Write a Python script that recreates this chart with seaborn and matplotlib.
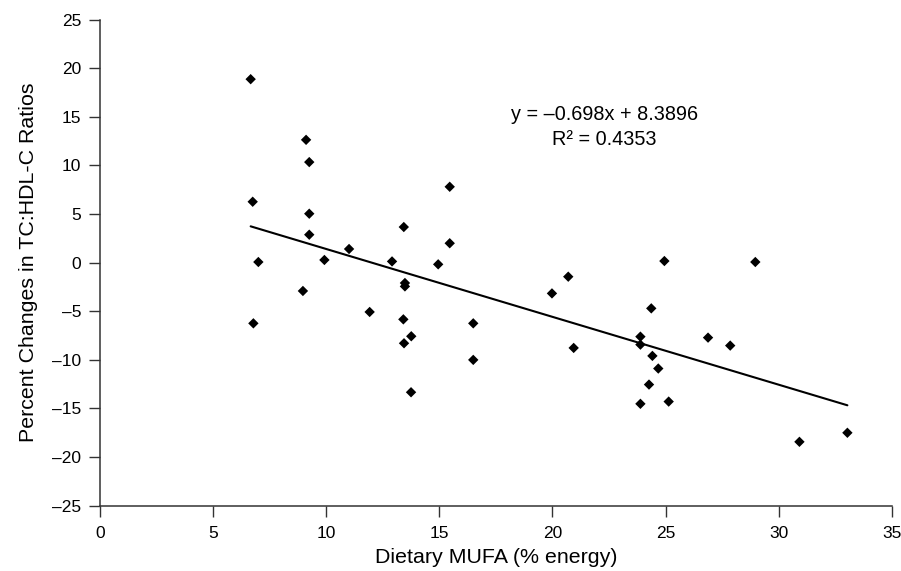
import numpy as np
import pandas as pd
import matplotlib
matplotlib.use("Agg")
import matplotlib.pyplot as plt
import seaborn as sns

# Dietary MUFA intake (% energy) and percent change in TC:HDL-C ratio per study arm
mufa = [6.66, 9.11, 9.25, 6.75, 9.25, 9.25, 7.00, 8.97, 9.92, 11.01,
        12.91, 13.43, 13.48, 13.48, 15.46, 15.46, 14.95, 6.78, 11.92, 13.41,
        13.76, 13.44, 13.75, 16.50, 16.50, 19.98, 20.70, 20.94, 23.89, 23.89,
        24.37, 24.42, 24.68, 24.27, 23.89, 25.14, 24.95, 26.88, 27.86, 28.97,
        30.92, 33.04]
tc_hdl_change = [18.88, 12.64, 10.35, 6.27, 5.04, 2.88, 0.07, -2.91, 0.28, 1.41,
                 0.13, 3.67, -2.09, -2.44, 7.81, 2.00, -0.17, -6.24, -5.07, -5.83,
                 -7.57, -8.29, -13.33, -6.24, -10.00, -3.16, -1.44, -8.77, -7.61, -8.43,
                 -4.70, -9.59, -10.89, -12.54, -14.52, -14.29, 0.17, -7.71, -8.53, 0.07,
                 -18.43, -17.50]

# Linear trend reported on the chart
slope = -0.698
intercept = 8.3896
r_squared = 0.4353

x_ticks = [0, 5, 10, 15, 20, 25, 30, 35]
y_ticks = [-25, -20, -15, -10, -5, 0, 5, 10, 15, 20, 25]
y_tick_labels = ["–25", "–20", "–15", "–10", "–5", "0", "5", "10", "15", "20", "25"]

df = pd.DataFrame({"mufa": mufa, "change": tc_hdl_change})
x_fit = np.array([min(mufa), max(mufa)])
fit = pd.DataFrame({"mufa": x_fit, "change": slope * x_fit + intercept})

sns.set_theme(style="ticks")
plt.rcParams["font.family"] = ["Liberation Sans", "DejaVu Sans"]

fig = plt.figure(figsize=(9.01, 5.71), dpi=100)
ax = fig.add_axes([0.1110, 0.1144, 0.8787, 0.8511])

sns.scatterplot(data=df, x="mufa", y="change", marker="D", s=28,
                color="black", edgecolor="none", ax=ax, zorder=3)
sns.lineplot(data=fit, x="mufa", y="change", color="black", linewidth=1.5,
             ax=ax, zorder=2)

ax.set_xlim(0, 35)
ax.set_ylim(-25, 25)
ax.set_xticks(x_ticks)
ax.set_xticklabels([str(t) for t in x_ticks])
ax.set_yticks(y_ticks)
ax.set_yticklabels(y_tick_labels)

for side in ("top", "right"):
    ax.spines[side].set_visible(False)
for side in ("left", "bottom"):
    ax.spines[side].set_color("#333333")
    ax.spines[side].set_linewidth(1.1)
    ax.spines[side].set_clip_on(False)

ax.tick_params(axis="both", direction="out", length=7.6, width=1.0,
               color="#333333", labelsize=12.5, labelcolor="black")
ax.tick_params(axis="x", pad=6.7)
ax.tick_params(axis="y", pad=5.8)

ax.set_xlabel("Dietary MUFA (% energy)", fontsize=15.4, color="black")
ax.set_ylabel("Percent Changes in TC:HDL-C Ratios", fontsize=15.4, color="black")
ax.xaxis.set_label_coords(0.5, -0.088)
ax.yaxis.set_label_coords(-0.078, 0.5)

ax.text(22.3, 15.2, f"y = –{abs(slope)}x + {intercept}", ha="center", va="center",
        fontsize=14.3, color="black")
ax.text(22.3, 12.7, f"R² = {r_squared}", ha="center", va="center",
        fontsize=14.3, color="black")

fig.savefig("out.png", dpi=100, facecolor="white")
